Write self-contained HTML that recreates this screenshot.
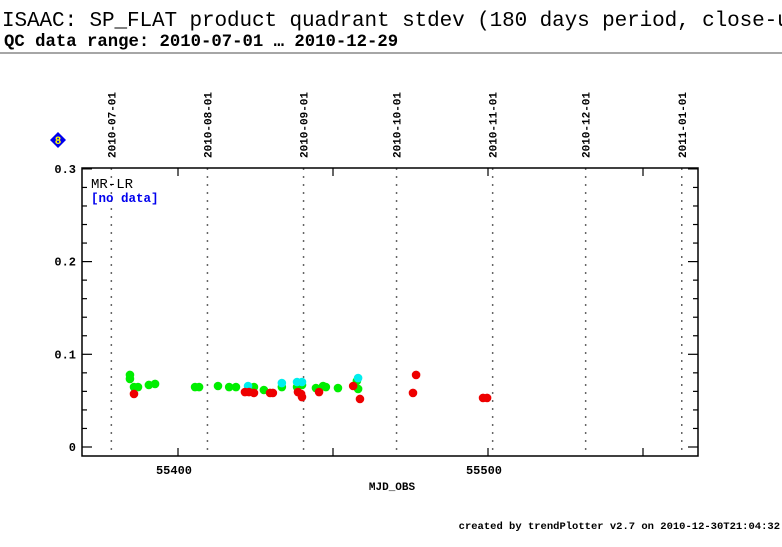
<!DOCTYPE html>
<html><head><meta charset="utf-8"><style>
body{margin:0;background:#fff;width:782px;height:542px;overflow:hidden}
svg text{font-family:"Liberation Mono",monospace}
</style></head><body>
<svg id="chart" width="782" height="542" xmlns="http://www.w3.org/2000/svg">
<text x="2" y="26" font-size="21" letter-spacing="-0.1">ISAAC: SP_FLAT product quadrant stdev (180 days period, close-u</text>
<text x="4" y="46" font-size="17.3" font-weight="bold">QC data range: 2010-07-01 … 2010-12-29</text>
<line x1="0" y1="53" x2="782" y2="53" stroke="#888" stroke-width="1.5"/>
<g><polygon points="58,132 66,140 58,148 50,140" fill="#0000ee"/><text x="58" y="144" font-size="11" font-weight="bold" fill="#ffff00" text-anchor="middle">8</text></g>
<g id="grid"></g><g id="axes"></g><g id="marks"></g>
<text x="91" y="188" font-size="14">MR-LR</text>
<text x="91" y="202" font-size="12.5" font-weight="bold" fill="#0000ee">[no data]</text>
<text x="392" y="490" font-size="11" font-weight="bold" text-anchor="middle">MJD_OBS</text>
<text x="780" y="529" font-size="10.5" font-weight="bold" text-anchor="end">created by trendPlotter v2.7 on 2010-12-30T21:04:32</text>
</svg>
<script>
const dateLabels=["2010-07-01","2010-08-01","2010-09-01","2010-10-01","2010-11-01","2010-12-01","2011-01-01"];
const dateMjd=[55378,55409,55440,55470,55501,55531,55562];
const yTicks=[0,0.1,0.2,0.3];
const xTicks=[55400,55450,55500,55550];
const xTickLabels=["55400","55500"];
const greenMjd=[55384.5,55384.5,55385.8,55387.1,55390.6,55392.6,55405.5,55406.8,55412.9,55416.5,55418.7,55424.5,55427.7,55433.5,55438.4,55440.0,55444.5,55446.8,55447.7,55451.6,55457.7,55458.1];
const greenVal=[0.0777,0.0734,0.0647,0.0647,0.0669,0.068,0.0647,0.0647,0.0658,0.0647,0.0647,0.0647,0.0615,0.0647,0.0647,0.0669,0.0636,0.0658,0.0647,0.0636,0.0712,0.0626];
const cyanMjd=[55422.6,55433.5,55438.4,55440.0,55458.1];
const cyanVal=[0.0658,0.069,0.0701,0.0701,0.0744];
const redMjd=[55385.8,55421.6,55422.9,55424.5,55429.7,55430.6,55438.7,55439.7,55440.0,55445.5,55456.5,55458.7,55475.8,55476.8,55498.4,55499.7];
const redVal=[0.0572,0.0593,0.0593,0.0583,0.0583,0.0583,0.0593,0.0572,0.0539,0.0593,0.0658,0.0518,0.0583,0.0777,0.0529,0.0529];
const NS="http://www.w3.org/2000/svg";
const L=82,R=698,T=168,B=456;
const xs=m=>178+(m-55400)*3.1;
const ys=v=>447-v*927;
function mk(tag,attrs,parent){const e=document.createElementNS(NS,tag);for(const k in attrs)e.setAttribute(k,attrs[k]);document.getElementById(parent).appendChild(e);return e;}
dateMjd.forEach((m,i)=>{const x=xs(m+0.5);
 const l=mk('line',{x1:x,y1:T,x2:x,y2:B,stroke:'#666','stroke-width':1.5,'stroke-dasharray':'2,6'},'grid');
 
 
 const t=mk('text',{x:0,y:0,'font-size':11,'font-weight':'bold',transform:`translate(${x+4},158) rotate(-90)`},'grid');
 t.textContent=dateLabels[i];
 
 
});
const fr=mk('rect',{x:L,y:T,width:R-L,height:B-T,fill:'none',stroke:'#000','stroke-width':1.5},'axes');


for(let v=0;v<=0.3001;v+=0.02){const y=ys(v);const major=Math.abs(v*10-Math.round(v*10))<1e-6;
 mk('line',{x1:L,y1:y,x2:L+(major?10:5),y2:y,stroke:'#000','stroke-width':1.2},'axes');
 mk('line',{x1:R,y1:y,x2:R-(major?10:5),y2:y,stroke:'#000','stroke-width':1.2},'axes');}
yTicks.forEach(v=>{const t=mk('text',{x:76,y:ys(v)+4,'font-size':12,'font-weight':'bold','font-family':'Liberation Sans, sans-serif','text-anchor':'end'},'axes');
 t.textContent=v===0?'0':String(v);
 
 });
xTicks.forEach(m=>{const x=xs(m);
 mk('line',{x1:x,y1:B,x2:x,y2:B-8,stroke:'#000','stroke-width':1.2},'axes');
 mk('line',{x1:x,y1:T,x2:x,y2:T+8,stroke:'#000','stroke-width':1.2},'axes');});
xTickLabels.forEach(s=>{const t=mk('text',{x:xs(+s)-4,y:474,'font-size':12,'font-weight':'bold','font-family':'Liberation Sans, sans-serif','text-anchor':'middle'},'axes');
 t.textContent=s;
 
 });
function series(ms,vs,col,name){ms.forEach((m,i)=>{const c=mk('circle',{cx:xs(m),cy:ys(vs[i]),r:4.3,fill:col},'marks');
 
 });}
series(greenMjd,greenVal,'#00ee00','green-point');
series(cyanMjd,cyanVal,'#00eeee','cyan-point');
series(redMjd,redVal,'#ee0000','red-point');
</script>
</body></html>
